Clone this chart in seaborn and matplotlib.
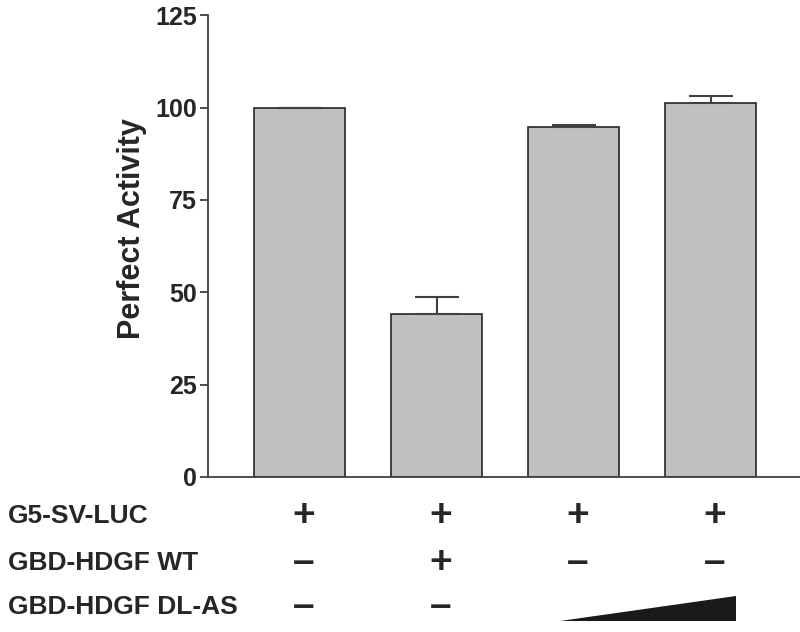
#!/usr/bin/env python

import numpy as np
import seaborn as sns
from matplotlib import pyplot as plt
from matplotlib import transforms
from matplotlib.patches import Polygon

# values
conditions = ["1", "2", "3", "4"]
activity = [100.0, 44.0, 94.8, 101.2]
err_up = [0.0, 4.8, 0.4, 2.0]
yticks = [0, 25, 50, 75, 100, 125]

row_names = ["G5-SV-LUC", "GBD-HDGF WT", "GBD-HDGF DL-AS"]
g5_sv_luc = ["+", "+", "+", "+"]
gbd_wt = ["\u2013", "+", "\u2013", "\u2013"]
gbd_dlas = ["\u2013", "\u2013", None, None]   # last two: increasing wedge

sns.set_theme(style="ticks")
plt.rcParams["font.family"] = ["Liberation Sans", "DejaVu Sans"]
plt.rcParams["font.weight"] = "bold"

fig = plt.figure(figsize=(8, 6.32), dpi=100)
ax = fig.add_axes([0.26, 0.2453, 0.74, 0.7307])

sns.barplot(x=conditions, y=activity, color="#c0c0c0", edgecolor="#262626",
            linewidth=1.2, width=0.665, errorbar=None, saturation=1, ax=ax)

xpos = np.arange(len(activity))
ax.errorbar(xpos, activity, yerr=[np.zeros(len(err_up)), err_up], fmt="none",
            ecolor="#404040", elinewidth=1.5, capsize=16, capthick=1.5)

ax.set_xlim(-0.67, 3.65)
ax.set_ylim(0, 125)
ax.set_yticks(yticks)
ax.tick_params(axis="y", labelsize=18, length=6, width=1.3, color="#404040", pad=2)
ax.set_xticks([])
ax.set_xlabel("")
ax.set_ylabel("Perfect Activity", fontsize=22, fontweight="bold")
ax.yaxis.set_label_coords(-0.103, 0.537)
for lab in ax.get_yticklabels():
    lab.set_fontweight("bold")

sns.despine(ax=ax, right=True, top=True)
ax.spines["left"].set_color("#404040")
ax.spines["bottom"].set_color("#404040")
ax.spines["left"].set_linewidth(1.3)
ax.spines["bottom"].set_linewidth(1.3)

# condition table under the bars
trans = transforms.blended_transform_factory(ax.transData, fig.transFigure)
row_y = [0.1835, 0.109, 0.0396]
for name, y in zip(row_names, row_y):
    fig.text(0.01, y, name, fontsize=19, fontweight="bold", va="center", ha="left")

for row, y in zip([g5_sv_luc, gbd_wt, gbd_dlas], row_y):
    for i, sym in enumerate(row):
        if sym is None:
            continue
        ax.text(xpos[i] + 0.03, y, sym, transform=trans, fontsize=28,
                fontweight="bold", ha="center", va="center", clip_on=False)

# wedge for increasing DL-AS dose
wedge = Polygon([(xpos[2] - 0.1, 0.0174), (xpos[3] + 0.18, 0.0174),
                 (xpos[3] + 0.18, 0.057)], closed=True, transform=trans,
                facecolor="#1a1a1a", edgecolor="none", clip_on=False)
ax.add_artist(wedge)

fig.savefig("out.png", dpi=100)
